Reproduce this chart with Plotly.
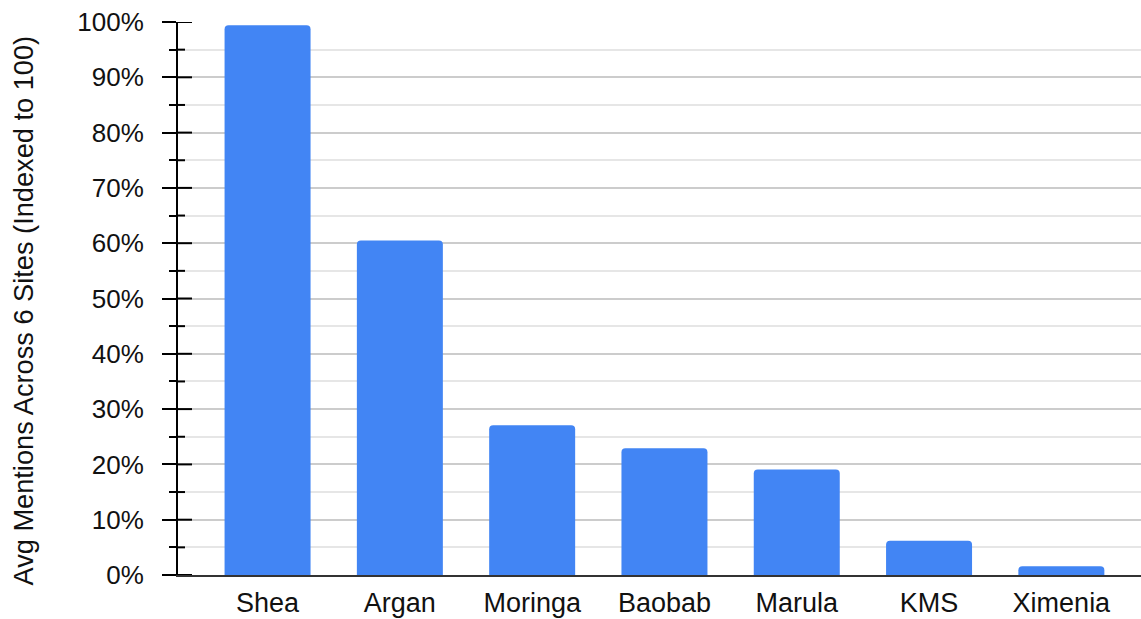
import plotly.graph_objects as go

categories = ["Shea", "Argan", "Moringa", "Baobab", "Marula", "KMS", "Ximenia"]
values = [99.4, 60.5, 27.1, 22.9, 19.1, 6.2, 1.6]
y_tick_vals = [0, 10, 20, 30, 40, 50, 60, 70, 80, 90, 100]
y_tick_text = ["0%", "10%", "20%", "30%", "40%", "50%", "60%", "70%", "80%", "90%", "100%"]
y_minor_vals = [5, 15, 25, 35, 45, 55, 65, 75, 85, 95]
y_title = "Avg Mentions Across 6 Sites (Indexed to 100)"

FONT = "Liberation Sans, Arial, Helvetica, sans-serif"
W, H = 1141, 619
ML, MR, MT, MB = 178, 0, 22, 44
PLOT_W = W - ML - MR

fig = go.Figure()
fig.add_trace(go.Bar(
    x=list(range(len(categories))), y=values,
    marker=dict(color="#4285F4", cornerradius=4, line=dict(width=0)),
    hoverinfo="skip", showlegend=False,
))

# inner half of the crossing ticks (outer half comes from the axis itself)
shapes = []
for v in y_tick_vals:
    shapes.append(dict(type="line", xref="paper", yref="y",
                       x0=0, x1=14 / PLOT_W, y0=v, y1=v, layer="above",
                       line=dict(color="#000000", width=2)))
for v in y_minor_vals:
    shapes.append(dict(type="line", xref="paper", yref="y",
                       x0=0, x1=7 / PLOT_W, y0=v, y1=v, layer="above",
                       line=dict(color="#000000", width=2)))

fig.update_layout(
    width=W, height=H,
    margin=dict(l=ML, r=MR, t=MT, b=MB),
    paper_bgcolor="white", plot_bgcolor="white",
    bargap=0.35,
    font=dict(family=FONT, color="#111111"),
    shapes=shapes,
    annotations=[dict(
        text=y_title, textangle=-90, xref="paper", yref="paper",
        x=0, y=0.5, xanchor="center", yanchor="middle",
        xshift=-155, yshift=-12, showarrow=False,
        font=dict(size=27.2, color="#111111"),
    )],
    xaxis=dict(
        range=[-0.677, 6.602],
        tickmode="array",
        tickvals=list(range(len(categories))),
        ticktext=categories,
        tickfont=dict(size=27, color="#111111"),
        showgrid=False, zeroline=False,
        showline=True, linecolor="#333333", linewidth=2,
        ticks="", ticklabelstandoff=3,
    ),
    yaxis=dict(
        range=[0, 100],
        tickmode="array", tickvals=y_tick_vals, ticktext=y_tick_text,
        tickfont=dict(size=26, color="#111111"),
        ticks="outside", ticklen=14, tickwidth=2, tickcolor="#000000",
        ticklabelstandoff=13,
        showline=True, linecolor="#000000", linewidth=2,
        showgrid=True, gridcolor="#cccccc", gridwidth=1.5,
        zeroline=False,
        minor=dict(tickvals=y_minor_vals, ticks="outside", ticklen=7, tickwidth=2,
                   tickcolor="#000000", showgrid=True, gridcolor="#e6e6e6", gridwidth=1.5),
    ),
)

fig.write_html("out.html")
